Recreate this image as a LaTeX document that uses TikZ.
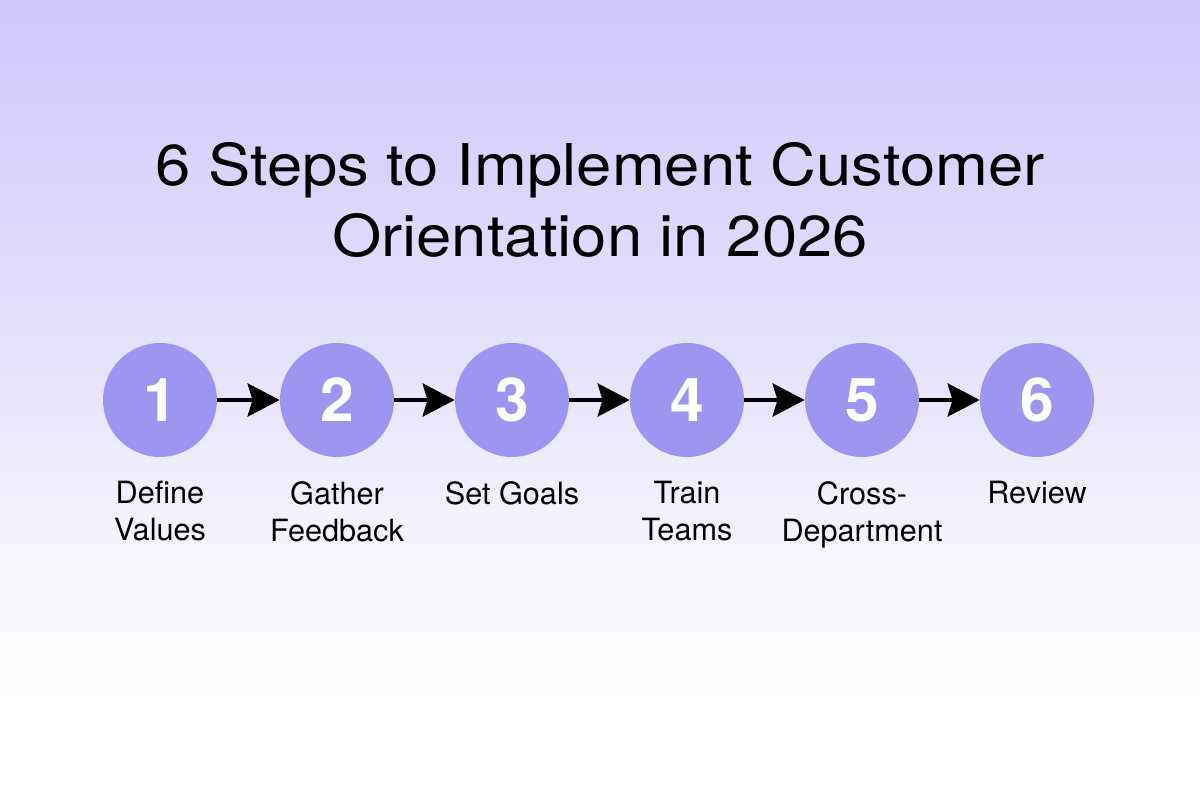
\documentclass[tikz,border=0pt]{standalone}
\usepackage{fontspec}
\setmainfont{TeX Gyre Heros}
\newfontfamily\titlefont[FakeStretch=1.1]{TeX Gyre Heros}
\usetikzlibrary{arrows.meta}
\usetikzlibrary{positioning}

\definecolor{bgtop}{RGB}{207,201,251}
\definecolor{bgmid}{RGB}{232,229,251}
\definecolor{bglow}{RGB}{246,246,253}
\definecolor{stepfill}{RGB}{157,149,239}
\pgfdeclareverticalshading{bgshade}{100bp}{color(0bp)=(white); color(31.25bp)=(white); color(40bp)=(bglow); color(50bp)=(bgmid); color(75bp)=(bgtop); color(100bp)=(bgtop)}

\begin{document}
\begin{tikzpicture}[
        stepnode/.style={circle,fill=stepfill,text=white,minimum size=2.85cm,inner sep=0pt,font=\fontsize{43}{43}\selectfont\bfseries},
        lbl/.style={align=center,inner sep=0pt,anchor=north,font=\fontsize{21.8}{26.3}\selectfont},
        arr/.style={line width=3.5pt,-{Stealth[length=0.8cm,width=0.82cm,inset=0.12cm]}}
      ]
      \fill[shading=bgshade] (0,0) rectangle (30,20);
      \useasboundingbox (0,0) rectangle (30,20);
      \node[align=center,font=\titlefont\fontsize{41}{50}\selectfont] (title) at (15,15.0) {6 Steps to Implement Customer\\Orientation in 2026};
      % Steps.
      \node[stepnode] (s1) at (4,10) {1};
      \node[stepnode] (s2) at (8.425,10) {2};
      \node[stepnode] (s3) at (12.8,10) {3};
      \node[stepnode] (s4) at (17.175,10) {4};
      \node[stepnode] (s5) at (21.55,10) {5};
      \node[stepnode] (s6) at (25.925,10) {6};
      % Labels.
      \node[lbl,below=0.6cm of s1] (l1) {Define\\Values};
      \node[lbl,below=0.6cm of s2] (l2) {Gather\\Feedback};
      \node[lbl,below=0.6cm of s3] (l3) {Set Goals};
      \node[lbl,below=0.6cm of s4] (l4) {Train\\Teams};
      \node[lbl,below=0.6cm of s5] (l5) {Cross-\\Department};
      \node[lbl,below=0.6cm of s6] (l6) {Review};
      % Connections.
      \draw[arr] (s1) -- (s2);
      \draw[arr] (s2) -- (s3);
      \draw[arr] (s3) -- (s4);
      \draw[arr] (s4) -- (s5);
      \draw[arr] (s5) -- (s6);
    \end{tikzpicture}
\end{document}
